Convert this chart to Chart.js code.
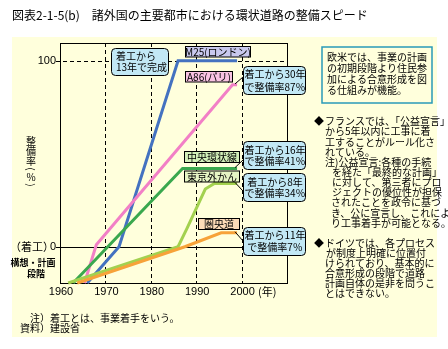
<!DOCTYPE html>
<html><head><meta charset="utf-8">
<script src="https://cdn.jsdelivr.net/npm/chart.js@4"></script>
<style>html,body{margin:0;padding:0;background:#fff}canvas{display:block}</style>
</head><body>
<canvas id="c" width="448" height="349" style="width:448px;height:349px"></canvas>
<script>
// ---- data ----
const xTickLabels = [1960, 1970, 1980, 1990, 2000];
const yTickLabels = [0, 100];
const seriesNames = ['圏央道', '東京外かん', '中央環状線', 'A86(パリ)', 'M25(ロンドン)'];
const kenoYears   = [1963.8, 1987.5, 1995.5, 1999];
const kenoValues  = [-19.5, 0, 7.5, 7.5];
const gaikanYears = [1961.8, 1986, 1988, 1992, 1994, 1999];
const gaikanValues= [-19.5, 0, 10, 31, 34, 34];
const chuoYears   = [1962.9, 1987, 1999];
const chuoValues  = [-19.5, 42, 42];
const a86Years    = [1965.4, 1968, 1998, 1999];
const a86Values   = [-19.5, 1, 87, 87];
const m25Years    = [1966, 1973, 1986, 1999];
const m25Values   = [-19.5, 0, 100, 100];

const colors = ['#f7a239', '#a3d14f', '#3aa84e', '#f27fc6', '#4472c0'];
const yearsList = [kenoYears, gaikanYears, chuoYears, a86Years, m25Years];
const valuesList = [kenoValues, gaikanValues, chuoValues, a86Values, m25Values];

const datasets = seriesNames.map((n, i) => ({
  label: n,
  data: yearsList[i].map((yr, j) => ({x: yr, y: valuesList[i][j]})),
  borderColor: colors[i], backgroundColor: colors[i],
  borderWidth: 3, pointRadius: 0, tension: 0, fill: false, clip: 2
}));

const JP = '"Noto Sans CJK JP", sans-serif';
const NUM = '"Liberation Sans", Arial, sans-serif';

function rrect(ctx, x, y, w, h, r, fill, stroke, lw) {
  ctx.beginPath();
  ctx.moveTo(x + r, y);
  ctx.arcTo(x + w, y, x + w, y + h, r);
  ctx.arcTo(x + w, y + h, x, y + h, r);
  ctx.arcTo(x, y + h, x, y, r);
  ctx.arcTo(x, y, x + w, y, r);
  ctx.closePath();
  if (fill) { ctx.fillStyle = fill; ctx.fill(); }
  if (stroke) { ctx.strokeStyle = stroke; ctx.lineWidth = lw || 1; ctx.stroke(); }
}
function txt(ctx, s, x, y, font, color, align) {
  ctx.font = font; ctx.fillStyle = color || '#000';
  ctx.textAlign = align || 'left'; ctx.textBaseline = 'middle';
  ctx.fillText(s, x, y);
}

const deco = {
  id: 'deco',
  beforeDraw(chart) {
    const ctx = chart.ctx;
    ctx.save();
    ctx.fillStyle = '#ffffff'; ctx.fillRect(0, 0, 448, 349);
    ctx.fillStyle = '#ffffdc'; ctx.fillRect(12, 37, 425, 300);
    txt(ctx, '図表2-1-5(b)　諸外国の主要都市における環状道路の整備スピード', 12, 15, '12px ' + JP, '#000');
    ctx.restore();
  },
  beforeDatasetsDraw(chart) {
    const ctx = chart.ctx, a = chart.chartArea;
    const xs = chart.scales.x, ys = chart.scales.y;
    ctx.save();
    ctx.strokeStyle = '#000'; ctx.lineWidth = 1;
    // dashed verticals
    ctx.setLineDash([4, 3]);
    xTickLabels.slice(1).forEach(v => {
      const px = Math.round(xs.getPixelForValue(v)) + 0.5;
      ctx.beginPath(); ctx.moveTo(px, a.top); ctx.lineTo(px, a.bottom); ctx.stroke();
    });
    // dashed 100 line
    const p100 = Math.round(ys.getPixelForValue(100)) + 0.5;
    ctx.beginPath(); ctx.moveTo(a.left - 4, p100); ctx.lineTo(a.right, p100); ctx.stroke();
    ctx.setLineDash([]);
    // solid 0 line
    const p0 = Math.round(ys.getPixelForValue(0)) + 0.5;
    ctx.beginPath(); ctx.moveTo(a.left - 4, p0); ctx.lineTo(a.right, p0); ctx.stroke();
    // frame (crisp 1px)
    ctx.lineWidth = 1;
    ctx.strokeRect(Math.round(a.left) + 0.5, Math.round(a.top) + 0.5,
      Math.round(a.right - a.left), Math.round(a.bottom - a.top));
    ctx.restore();
  },
  afterDatasetsDraw(chart) {
    const ctx = chart.ctx, a = chart.chartArea;
    const xs = chart.scales.x, ys = chart.scales.y;
    ctx.save();
    // x tick labels
    xTickLabels.forEach(v => txt(ctx, String(v), xs.getPixelForValue(v) + 1, 292, '11px ' + NUM, '#000', 'center'));
    txt(ctx, '(年)', 258, 292, '11px ' + JP, '#000');
    // y tick labels
    txt(ctx, String(yTickLabels[1]), 56, ys.getPixelForValue(yTickLabels[1]), '11px ' + NUM, '#000', 'right');
    txt(ctx, String(yTickLabels[0]), 56, ys.getPixelForValue(yTickLabels[0]), '11px ' + NUM, '#000', 'right');
    txt(ctx, '（着工）', 10, ys.getPixelForValue(0), '11px ' + JP, '#000');
    txt(ctx, '構想・計画', 33, 263, 'bold 9px ' + JP, '#000', 'center');
    txt(ctx, '段階', 36, 274, 'bold 9px ' + JP, '#000', 'center');
    // vertical axis title
    const vx = 31;
    txt(ctx, '整', vx, 141, '10px ' + JP, '#000', 'center');
    txt(ctx, '備', vx, 151, '10px ' + JP, '#000', 'center');
    txt(ctx, '率', vx, 161.5, '10px ' + JP, '#000', 'center');
    [['(', 169], ['%', 177], [')', 185]].forEach(([c, y]) => {
      ctx.save(); ctx.translate(vx, y);
      if (c !== '%') ctx.rotate(Math.PI / 2);
      txt(ctx, c, 0, 0, '10px ' + JP, '#000', 'center');
      ctx.restore();
    });

    const F = '10px ' + JP;
    const blue = '#c2e8f5';
    // leader lines from series ends to boxes
    const ends = [
      [a86Years, a86Values, 243, 77],
      [chuoYears, chuoValues, 243, 160],
      [gaikanYears, gaikanValues, 242, 190],
      [kenoYears, kenoValues, 243, 241]
    ];
    ctx.strokeStyle = '#000'; ctx.lineWidth = 1;
    ends.forEach(([ys_, vs, bx, by]) => {
      const ex = xs.getPixelForValue(ys_[ys_.length - 1]);
      const ey = ys.getPixelForValue(vs[vs.length - 1]);
      ctx.beginPath(); ctx.moveTo(ex - 2, ey - 1); ctx.lineTo(bx, by); ctx.stroke();
    });

    // blue callouts
    rrect(ctx, 111.5, 48.5, 57, 27, 4, blue, '#000', 1);
    txt(ctx, '着工から', 116, 56, F); txt(ctx, '13年で完成', 116, 67.5, F);
    const callouts = [
      [66.5, '着工から30年', 'で整備率87％', 74.5, 87],
      [141.5, '着工から16年', 'で整備率41％', 150, 161],
      [173.5, '着工から8年', 'で整備率34％', 182.5, 193.5],
      [227.5, '着工から11年', 'で整備率7％', 235.5, 247]
    ];
    callouts.forEach(([y, l1, l2, t1, t2]) => {
      rrect(ctx, 243.5, y, 62, 28, 4, blue, '#000', 1);
      txt(ctx, l1, 275, t1, F, '#000', 'center');
      txt(ctx, l2, 275, t2, F, '#000', 'center');
    });
    // series labels
    const labs = [
      ['M25(ロンドン)', 185.5, 46.5, 65, 10.5, '#c9c9ee'],
      ['A86(パリ)', 185.5, 71.5, 47, 10.5, '#f9c3e3'],
      ['中央環状線', 184.5, 151.5, 55, 11, '#d3f0b9'],
      ['東京外かん', 184.5, 171, 55, 11, '#e6f5c4'],
      ['圏央道', 198.5, 218.5, 41, 11, '#fddcb8']
    ];
    labs.forEach(([s, x, y, w, h, c]) => {
      ctx.fillStyle = c; ctx.fillRect(x, y, w, h);
      ctx.strokeStyle = '#000'; ctx.lineWidth = 1; ctx.strokeRect(x, y, w, h);
      txt(ctx, s, x + w / 2, y + h / 2 + 0.5, F, '#000', 'center');
    });

    // right column box
    ctx.strokeStyle = '#2a9ab8'; ctx.lineWidth = 1.5;
    ctx.strokeRect(322, 47, 110, 56);
    const R = '10px ' + JP;
    [['欧米では、事業の計画', 57], ['の初期段階より住民参', 68], ['加による合意形成を図', 79], ['る仕組みが機能。', 90]]
      .forEach(([s, y]) => txt(ctx, s, 327, y, R));
    const lines = [
      ['◆', 314, 121], ['フランスでは、「公益宣言」', 325, 121],
      ['から5年以内に工事に着', 325, 131.5], ['工することがルール化さ', 325, 142],
      ['れている。', 325, 152.5], ['注)公益宣言:各種の手続', 325, 162.5],
      ['を経た「最終的な計画」', 332, 172.5], ['に対して、第三者にプロ', 332, 182.5],
      ['ジェクトの優位性が担保', 332, 192.7], ['されたことを政令に基づ', 331, 202.7],
      ['き、公に宣言し、これによ', 331, 213], ['り工事着手が可能となる。', 331, 223.3],
      ['◆', 314, 243.3], ['ドイツでは、各プロセス', 325, 243.3],
      ['が制度上明確に位置付', 326, 253.3], ['けられており、基本的に', 325, 263],
      ['合意形成の段階で道路', 325, 273], ['計画自体の是非を問うこ', 325, 283],
      ['とはできない。', 325, 293]
    ];
    lines.forEach(([s, x, y]) => txt(ctx, s, x, y, R));
    // footnotes
    txt(ctx, '注）着工とは、事業着手をいう。', 30, 318, R);
    txt(ctx, '資料）建設省', 20, 328.5, R);
    ctx.restore();
  }
};

new Chart(document.getElementById('c'), {
  type: 'line',
  data: { datasets },
  options: {
    responsive: false, animation: false, devicePixelRatio: 1,
    layout: { padding: { left: 60, top: 43, right: 161, bottom: 66 } },
    plugins: { legend: { display: false }, tooltip: { enabled: false }, title: { display: false } },
    scales: {
      x: { type: 'linear', min: 1960, max: 2010, display: false },
      y: { type: 'linear', min: -19.5, max: 109.5, display: false }
    }
  },
  plugins: [deco]
});
</script>
</body></html>
